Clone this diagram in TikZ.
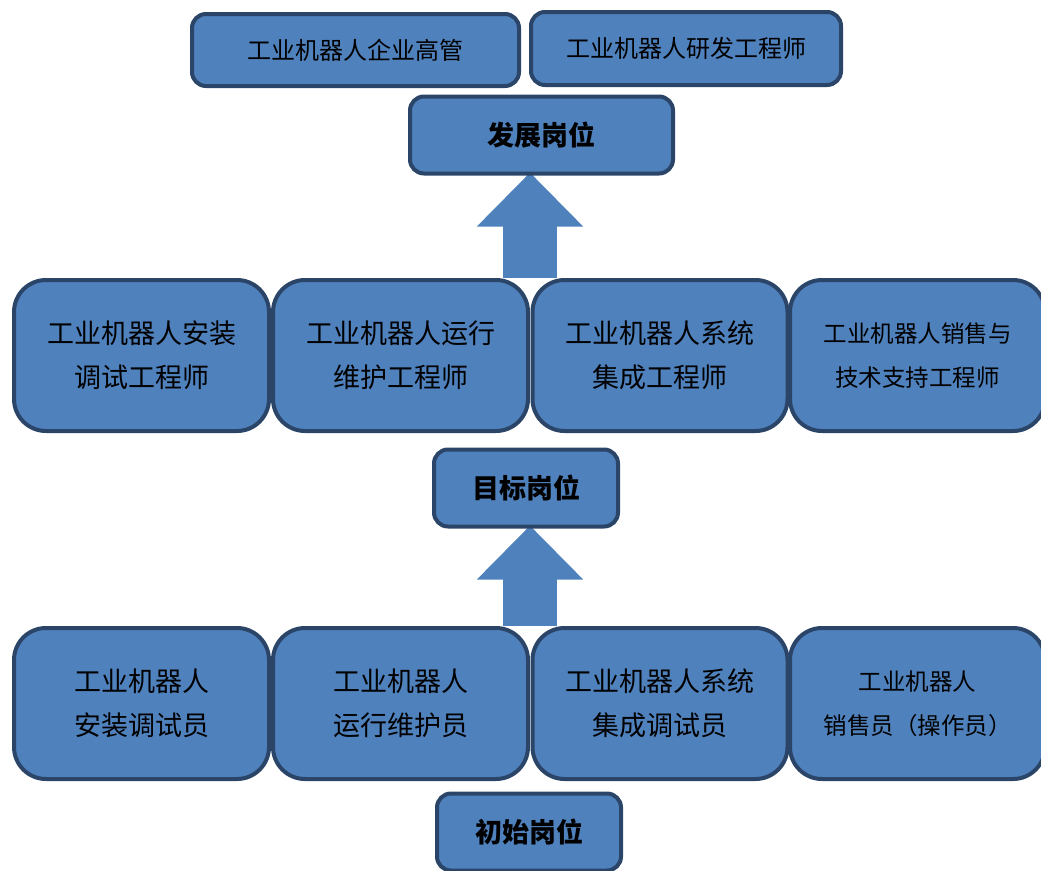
\documentclass[tikz,border=0pt]{standalone}
\usepackage{fontspec}
\newfontfamily\cjk{Noto Sans CJK SC}
\usetikzlibrary{arrows.meta,backgrounds}
\definecolor{boxfill}{HTML}{4F81BD}
\definecolor{boxline}{HTML}{2B4569}
\tikzset{
    rowbox/.style={draw=boxline,fill=boxfill,line width=4pt,rounded corners=32pt,
        minimum width=255pt,minimum height=151pt,inner sep=0pt,align=center,
        font=\cjk\fontsize{27}{44}\selectfont},
    smallrow/.style={rowbox,font=\cjk\fontsize{23.5}{44}\selectfont},
    topbox/.style={draw=boxline,fill=boxfill,line width=4pt,rounded corners=14pt,
        minimum height=72pt,inner sep=0pt,font=\cjk\fontsize{24}{28}\selectfont},
    levelbox/.style={draw=boxline,fill=boxfill,line width=4pt,rounded corners=14pt,
        minimum width=184pt,minimum height=77pt,inner sep=0pt,
        font=\cjk\bfseries\fontsize{27}{30}\selectfont},
    uparrow/.style={draw=boxfill,line width=54pt,shorten >=-3pt,
        -{Triangle[width=103pt,length=54pt]}}
}
\begin{document}
\begin{tikzpicture}[x=1pt,y=-1pt]
        \useasboundingbox (0,0) rectangle (1041,870);
        \clip (0,0) rectangle (1041,870);
        % Draw development positions
        \node[topbox,minimum width=327pt] (exec) at (355.5,50) {工业机器人企业高管};
        \node[topbox,minimum width=310pt,minimum height=73pt] (rnd) at (686,48.5) {工业机器人研发工程师};
        \node[levelbox,minimum width=263pt] (dev) at (541.5,135) {发展岗位};
        % Draw target positions
        \node[rowbox] (t1) at (141.5,355.5) {工业机器人安装\\调试工程师};
        \node[rowbox] (t2) at (400.5,355.5) {工业机器人运行\\维护工程师};
        \node[rowbox] (t3) at (660,355.5) {工业机器人系统\\集成工程师};
        \node[smallrow] (t4) at (917.5,355.5) {工业机器人销售与\\技术支持工程师};
        \node[levelbox] (goal) at (526,488) {目标岗位};
        % Draw initial positions
        \node[rowbox] (s1) at (141.5,703.5) {工业机器人\\安装调试员};
        \node[rowbox] (s2) at (400.5,703.5) {工业机器人\\运行维护员};
        \node[rowbox] (s3) at (660,703.5) {工业机器人系统\\集成调试员};
        \node[smallrow] (s4) at (917.5,703.5) {工业机器人\\销售员（操作员）};
        \node[levelbox] (init) at (529,832) {初始岗位};
        % Draw block arrows behind the boxes
        \begin{scope}[on background layer]
            \draw[uparrow] (t2.north east) -- (t2.north east |- dev.south);
            \draw[uparrow] (s2.north east) -- (s2.north east |- goal.south);
        \end{scope}
    \end{tikzpicture}
\end{document}
